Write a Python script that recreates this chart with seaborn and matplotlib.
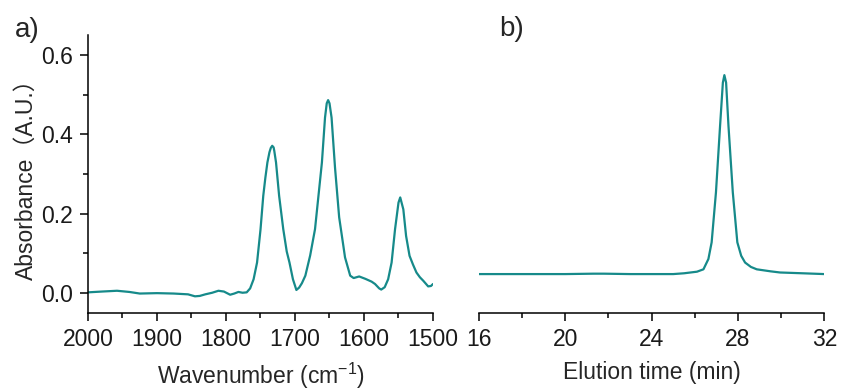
import matplotlib
matplotlib.use("Agg")
import matplotlib.pyplot as plt
import seaborn as sns
import pandas as pd
from matplotlib.ticker import MultipleLocator

# ── Data ──────────────────────────────────────────────────────────────────────
ftir_wavenumber = [
    2000, 1980, 1958, 1940, 1925, 1900, 1876, 1855, 1845, 1838, 1830, 1820,
    1811, 1803, 1794, 1788, 1782, 1776, 1770, 1765, 1760, 1755, 1750, 1746,
    1743, 1740, 1737, 1735, 1733, 1731, 1730, 1727.5, 1723, 1717, 1712, 1708,
    1703, 1698, 1694, 1690, 1685, 1678, 1671, 1666, 1661, 1656.5, 1654, 1652,
    1650, 1647, 1642, 1636, 1630, 1627.5, 1620, 1615, 1607, 1598, 1589, 1584,
    1578, 1575, 1570, 1565, 1560, 1555, 1550, 1547.5, 1543, 1539, 1534, 1529,
    1524, 1519, 1514, 1507, 1503, 1500,
]
ftir_absorbance = [
    0.002, 0.004, 0.006, 0.003, -0.001, 0.000, -0.001, -0.003, -0.008, -0.007,
    -0.003, 0.001, 0.006, 0.004, -0.004, -0.001, 0.003, 0.001, 0.002, 0.012,
    0.035, 0.077, 0.160, 0.245, 0.290, 0.329, 0.355, 0.366, 0.371, 0.367,
    0.358, 0.329, 0.245, 0.161, 0.105, 0.077, 0.035, 0.008, 0.014, 0.025,
    0.044, 0.095, 0.161, 0.245, 0.329, 0.442, 0.478, 0.486, 0.478, 0.442,
    0.316, 0.191, 0.120, 0.090, 0.044, 0.038, 0.042, 0.036, 0.029, 0.023,
    0.012, 0.009, 0.015, 0.035, 0.077, 0.161, 0.228, 0.241, 0.211, 0.144,
    0.094, 0.072, 0.052, 0.040, 0.031, 0.017, 0.018, 0.023,
]

gpc_time = [
    16, 18, 20, 21.3, 21.8, 23, 25, 25.5, 26.1, 26.4, 26.63, 26.78, 26.98,
    27.17, 27.3, 27.37, 27.45, 27.56, 27.76, 27.97, 28.15, 28.33, 28.6, 28.87,
    29.5, 29.95, 31.0, 32,
]
gpc_signal = [
    0.048, 0.048, 0.048, 0.049, 0.049, 0.048, 0.048, 0.050, 0.054, 0.060,
    0.086, 0.128, 0.254, 0.421, 0.530, 0.549, 0.530, 0.421, 0.254, 0.128,
    0.094, 0.077, 0.066, 0.060, 0.055, 0.052, 0.050, 0.048,
]

LINE_COLOR = "#168a8a"
FS = 16.5

sns.set_theme(style="ticks")
plt.rcParams["font.family"] = ["Liberation Sans", "Noto Sans CJK SC", "DejaVu Sans"]
plt.rcParams["mathtext.fontset"] = "custom"
plt.rcParams["mathtext.rm"] = "Liberation Sans"

fig = plt.figure(figsize=(8.41, 3.92), dpi=100)
ax1 = fig.add_axes([88 / 841, 1 - 313 / 392, 345 / 841, 278 / 392])
ax2 = fig.add_axes([479 / 841, 1 - 313 / 392, 345.3 / 841, 278 / 392])

ftir = pd.DataFrame({"wn": ftir_wavenumber, "abs": ftir_absorbance})
gpc = pd.DataFrame({"t": gpc_time, "s": gpc_signal})

sns.lineplot(data=ftir, x="wn", y="abs", ax=ax1, color=LINE_COLOR, lw=1.6,
             sort=False, estimator=None)
sns.lineplot(data=gpc, x="t", y="s", ax=ax2, color=LINE_COLOR, lw=1.6,
             sort=False, estimator=None)

# ── panel a ───────────────────────────────────────────────────────────────────
ax1.set_xlim(2000, 1500)
ax1.set_ylim(-0.05, 0.65)
ax1.xaxis.set_major_locator(MultipleLocator(100))
ax1.xaxis.set_minor_locator(MultipleLocator(50))
ax1.yaxis.set_major_locator(MultipleLocator(0.2))
ax1.yaxis.set_minor_locator(MultipleLocator(0.1))
ax1.yaxis.set_major_formatter(plt.FuncFormatter(lambda v, p: f"{v:.1f}"))
ax1.set_xlabel("Wavenumber (cm$^{\\mathregular{-1}}$)", fontsize=FS, labelpad=7)
ax1.set_ylabel("Absorbance（A.U.）", fontsize=FS, labelpad=2)
sns.despine(ax=ax1)

# ── panel b ───────────────────────────────────────────────────────────────────
ax2.set_xlim(16, 32)
ax2.set_ylim(-0.05, 0.65)
ax2.xaxis.set_major_locator(MultipleLocator(4))
ax2.xaxis.set_minor_locator(MultipleLocator(2))
ax2.set_yticks([])
ax2.set_xlabel("Elution time (min)", fontsize=FS, labelpad=7)
ax2.set_ylabel("")
sns.despine(ax=ax2, left=True)

for ax in (ax1, ax2):
    for s in ax.spines.values():
        s.set_linewidth(1.1)
        s.set_color("black")
    ax.tick_params(which="major", length=6, width=1.1, labelsize=FS, pad=5,
                   color="black", labelcolor="#1a1a1a", direction="out")
    ax.tick_params(which="minor", length=3.5, width=1.1, color="black",
                   direction="out")

fig.text(15 / 841, 1 - 30 / 392, "a)", fontsize=20, va="center", ha="left")
fig.text(499 / 841, 1 - 29 / 392, "b)", fontsize=20, va="center", ha="left")

fig.savefig("out.png", dpi=100)
